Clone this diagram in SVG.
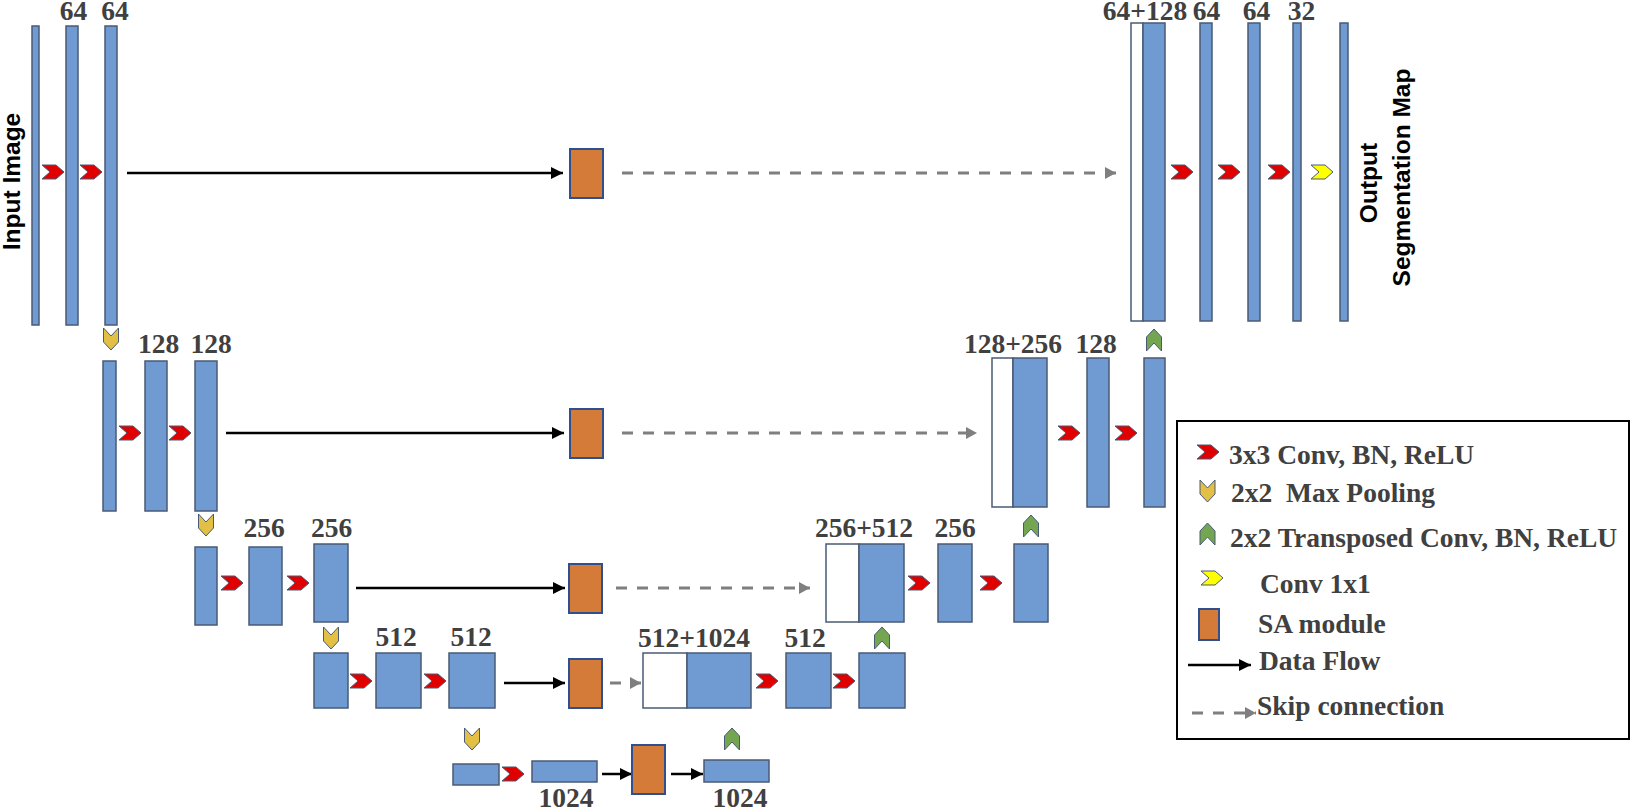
<svg xmlns="http://www.w3.org/2000/svg" xmlns:xlink="http://www.w3.org/1999/xlink" width="1631" height="809" viewBox="0 0 1631 809">
<style>
.bar{fill:#6F9BD2;stroke:#4A5A74;stroke-width:1.5}
.wbar{fill:#FFFFFF;stroke:#4A5A74;stroke-width:1.5}
.sa{fill:#D57B3A;stroke:#2F4F8F;stroke-width:2}
.red{fill:#E00000;stroke:#4A5A74;stroke-width:1}
.pool{fill:#E3BF45;stroke:#4A5A74;stroke-width:1}
.up{fill:#74A550;stroke:#4A5A74;stroke-width:1}
.c11{fill:#FFFF00;stroke:#4A5A74;stroke-width:1}
.lbl{font-family:"Liberation Serif","Times New Roman",serif;font-weight:bold;font-size:27.5px;fill:#404040;text-anchor:middle}
.leg{font-family:"Liberation Serif","Times New Roman",serif;font-weight:bold;font-size:27.5px;fill:#404040}
.side{font-family:"Liberation Sans",Arial,sans-serif;font-weight:bold;font-size:24.5px;fill:#000000;text-anchor:middle}
.flow{stroke:#000000;stroke-width:2.5;fill:none}
.skip{stroke:#7F7F7F;stroke-width:3;fill:none;stroke-dasharray:11 10}
</style>
<defs>
<marker id="ah" markerUnits="userSpaceOnUse" markerWidth="12" markerHeight="12" refX="12" refY="6" orient="auto"><path d="M0,0 L12,6 L0,12 Z" fill="#000000"/></marker>
<marker id="ag" markerUnits="userSpaceOnUse" markerWidth="11" markerHeight="12" refX="11" refY="6" orient="auto"><path d="M0,0 L11,6 L0,12 Z" fill="#7F7F7F"/></marker>
<path id="conv" d="M0,0 H14 L22,7 L14,14 H0 L8,7 Z"/>
<path id="poolc" d="M0,0 L7.5,8 L15,0 V14 L7.5,22 L0,14 Z"/>
<path id="upc" d="M7.5,0 L15,8 V22 L7.5,14 L0,22 V8 Z"/>
</defs>

<g id="connectors">
<line class="flow" x1="127" y1="173" x2="563" y2="173" marker-end="url(#ah)"/>
<line class="skip" x1="622" y1="173" x2="1116" y2="173" marker-end="url(#ag)"/>
<line class="flow" x1="226" y1="433" x2="564" y2="433" marker-end="url(#ah)"/>
<line class="skip" x1="622" y1="433" x2="977" y2="433" marker-end="url(#ag)"/>
<line class="flow" x1="356" y1="588" x2="565" y2="588" marker-end="url(#ah)"/>
<line class="skip" x1="616" y1="588" x2="810" y2="588" marker-end="url(#ag)"/>
<line class="flow" x1="504" y1="683" x2="565" y2="683" marker-end="url(#ah)"/>
<line class="skip" x1="610" y1="683" x2="641" y2="683" marker-end="url(#ag)"/>
<line class="flow" x1="602" y1="774" x2="632" y2="774" marker-end="url(#ah)"/>
<line class="flow" x1="671" y1="774" x2="703" y2="774" marker-end="url(#ah)"/>
</g>

<g id="input-label"><text class="side" transform="translate(20,181.5) rotate(-90)">Input Image</text></g>
<g id="output-label">
<text class="side" transform="translate(1377,183) rotate(-90)">Output</text>
<text class="side" transform="translate(1410,177.5) rotate(-90)">Segmentation Map</text>
</g>

<!-- Encoder row 1 -->
<g id="enc1-in"><rect class="bar" x="32" y="26" width="7" height="299"/></g>
<g id="enc1-a"><rect class="bar" x="66" y="26" width="12" height="299"/><text class="lbl" x="73.5" y="20">64</text></g>
<g id="enc1-b"><rect class="bar" x="105" y="26" width="12" height="299"/><text class="lbl" x="115" y="20">64</text></g>
<g id="sa1"><rect class="sa" x="570" y="149" width="33" height="49"/></g>
<!-- Decoder row 1 -->
<g id="dec1-cat"><rect class="wbar" x="1131" y="23" width="12" height="298"/><rect class="bar" x="1143" y="23" width="22" height="298"/><text class="lbl" x="1145" y="20">64+128</text></g>
<g id="dec1-a"><rect class="bar" x="1200" y="23" width="12" height="298"/><text class="lbl" x="1206.5" y="20">64</text></g>
<g id="dec1-b"><rect class="bar" x="1248" y="23" width="12" height="298"/><text class="lbl" x="1256.5" y="20">64</text></g>
<g id="dec1-c"><rect class="bar" x="1293" y="23" width="8" height="298"/><text class="lbl" x="1301.5" y="20">32</text></g>
<g id="dec1-out"><rect class="bar" x="1340" y="23" width="8" height="298"/></g>

<!-- Row 2 -->
<g id="enc2-in"><rect class="bar" x="103" y="361" width="13" height="150"/></g>
<g id="enc2-a"><rect class="bar" x="145" y="361" width="22" height="150"/><text class="lbl" x="158.5" y="353">128</text></g>
<g id="enc2-b"><rect class="bar" x="195" y="361" width="22" height="150"/><text class="lbl" x="211" y="353">128</text></g>
<g id="sa2"><rect class="sa" x="570" y="409" width="33" height="49"/></g>
<g id="dec2-cat"><rect class="wbar" x="992" y="358" width="21" height="149"/><rect class="bar" x="1013" y="358" width="34" height="149"/><text class="lbl" x="1013" y="353">128+256</text></g>
<g id="dec2-a"><rect class="bar" x="1087" y="358" width="22" height="149"/><text class="lbl" x="1096" y="353">128</text></g>
<g id="dec2-b"><rect class="bar" x="1144" y="358" width="21" height="149"/></g>

<!-- Row 3 -->
<g id="enc3-in"><rect class="bar" x="195" y="547" width="22" height="78"/></g>
<g id="enc3-a"><rect class="bar" x="249" y="547" width="33" height="78"/><text class="lbl" x="264" y="537">256</text></g>
<g id="enc3-b"><rect class="bar" x="314" y="544" width="34" height="78"/><text class="lbl" x="331.5" y="537">256</text></g>
<g id="sa3"><rect class="sa" x="569" y="564" width="33" height="49"/></g>
<g id="dec3-cat"><rect class="wbar" x="826" y="544" width="33" height="78"/><rect class="bar" x="859" y="544" width="45" height="78"/><text class="lbl" x="864" y="537">256+512</text></g>
<g id="dec3-a"><rect class="bar" x="938" y="544" width="34" height="78"/><text class="lbl" x="955" y="537">256</text></g>
<g id="dec3-b"><rect class="bar" x="1014" y="544" width="34" height="78"/></g>

<!-- Row 4 -->
<g id="enc4-in"><rect class="bar" x="314" y="653" width="34" height="55"/></g>
<g id="enc4-a"><rect class="bar" x="376" y="653" width="45" height="55"/><text class="lbl" x="396" y="646">512</text></g>
<g id="enc4-b"><rect class="bar" x="449" y="653" width="46" height="55"/><text class="lbl" x="471" y="646">512</text></g>
<g id="sa4"><rect class="sa" x="569" y="659" width="33" height="49"/></g>
<g id="dec4-cat"><rect class="wbar" x="643" y="653" width="44" height="55"/><rect class="bar" x="687" y="653" width="64" height="55"/><text class="lbl" x="694" y="647">512+1024</text></g>
<g id="dec4-a"><rect class="bar" x="786" y="653" width="45" height="55"/><text class="lbl" x="805" y="647">512</text></g>
<g id="dec4-b"><rect class="bar" x="859" y="653" width="46" height="55"/></g>

<!-- Row 5 -->
<g id="bot-in"><rect class="bar" x="453" y="764" width="46" height="21"/></g>
<g id="bot-a"><rect class="bar" x="532" y="761" width="65" height="21"/><text class="lbl" x="566" y="807">1024</text></g>
<g id="sa5"><rect class="sa" x="632" y="745" width="33" height="49"/></g>
<g id="bot-b"><rect class="bar" x="704" y="760" width="65" height="22"/><text class="lbl" x="740" y="807">1024</text></g>

<g id="ops">
<use href="#conv" class="red" x="42" y="165"/>
<use href="#conv" class="red" x="80" y="165"/>
<use href="#conv" class="red" x="1171" y="165"/>
<use href="#conv" class="red" x="1218" y="165"/>
<use href="#conv" class="red" x="1268" y="165"/>
<use href="#conv" class="c11" x="1311" y="165"/>
<use href="#conv" class="red" x="119" y="426"/>
<use href="#conv" class="red" x="169" y="426"/>
<use href="#conv" class="red" x="1058" y="426"/>
<use href="#conv" class="red" x="1115" y="426"/>
<use href="#conv" class="red" x="221" y="576"/>
<use href="#conv" class="red" x="287" y="576"/>
<use href="#conv" class="red" x="908" y="576"/>
<use href="#conv" class="red" x="980" y="576"/>
<use href="#conv" class="red" x="350" y="674"/>
<use href="#conv" class="red" x="424" y="674"/>
<use href="#conv" class="red" x="756" y="674"/>
<use href="#conv" class="red" x="833" y="674"/>
<use href="#conv" class="red" x="502" y="767"/>
<use href="#poolc" class="pool" x="103.5" y="328"/>
<use href="#poolc" class="pool" x="198.5" y="514"/>
<use href="#poolc" class="pool" x="323.5" y="627"/>
<use href="#poolc" class="pool" x="464.5" y="728"/>
<use href="#upc" class="up" x="724.5" y="728"/>
<use href="#upc" class="up" x="874.5" y="627"/>
<use href="#upc" class="up" x="1023.5" y="515"/>
<use href="#upc" class="up" x="1146.5" y="329"/>
</g>

<g id="legend">
<rect x="1177" y="421" width="452" height="318" fill="#FFFFFF" stroke="#000000" stroke-width="2"/>
<use href="#conv" class="red" x="1197" y="445"/>
<text class="leg" x="1229" y="464">3x3 Conv, BN, ReLU</text>
<use href="#poolc" class="pool" x="1200" y="480"/>
<text class="leg" x="1231" y="502" xml:space="preserve">2x2  Max Pooling</text>
<use href="#upc" class="up" x="1200" y="523"/>
<text class="leg" x="1230" y="547">2x2 Transposed Conv, BN, ReLU</text>
<use href="#conv" class="c11" x="1201" y="571"/>
<text class="leg" x="1260" y="593">Conv 1x1</text>
<rect class="sa" x="1199" y="609" width="20" height="31"/>
<text class="leg" x="1258" y="633">SA module</text>
<line class="flow" x1="1188" y1="665" x2="1251" y2="665" marker-end="url(#ah)"/>
<text class="leg" x="1259" y="670">Data Flow</text>
<line class="skip" x1="1192" y1="713" x2="1256" y2="713" marker-end="url(#ag)"/>
<text class="leg" x="1257" y="715">Skip connection</text>
</g>
</svg>
